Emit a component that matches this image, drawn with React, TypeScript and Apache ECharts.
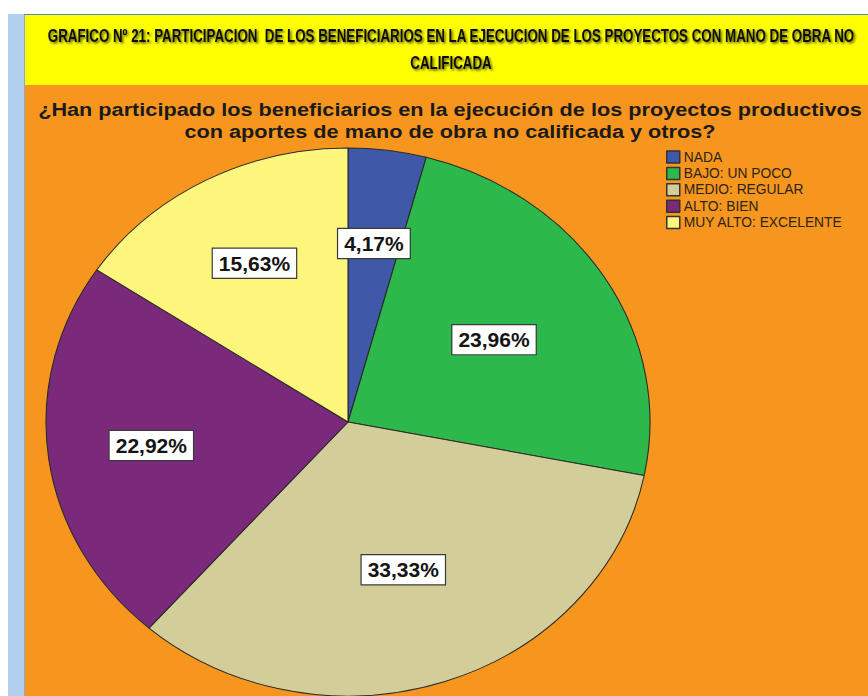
import React, { useEffect, useRef } from "react";
import * as echarts from "echarts";

const categories = ["NADA", "BAJO: UN POCO", "MEDIO: REGULAR", "ALTO: BIEN", "MUY ALTO: EXCELENTE"];
const percentages = [4.17, 23.96, 33.33, 22.92, 15.63];
const sliceColors = ["#3F59A8", "#2DB84C", "#D3CE99", "#7A297B", "#FCF67D"];
const titleLines = [
  "GRAFICO Nº 21: PARTICIPACION  DE LOS BENEFICIARIOS EN LA EJECUCION DE LOS PROYECTOS CON MANO DE OBRA NO",
  "CALIFICADA",
];
const subtitleLines = [
  "¿Han participado los beneficiarios en la ejecución de los proyectos productivos",
  "con aportes de mano de obra no calificada y otros?",
];
// which label ring each slice's label sits on (outer = farther from centre)
const labelRings = ["outer", "inner", "inner", "outer", "outer"];

const W = 868;
const H = 696;
const CX = 348;
const CY = 422;
const RY = 274;
const RX = 302;
const SX = RX / RY;
const ORANGE = "#F7961E";

const fmt = (v: number) => v.toFixed(2).replace(".", ",") + "%";

function measure(font: string, text: string) {
  const ctx = document.createElement("canvas").getContext("2d")!;
  ctx.font = font;
  return ctx.measureText(text).width;
}

function ringSeries(ring: string, rho: number) {
  return {
    type: "pie",
    center: [CX, CY],
    radius: [rho - 8, rho + 8],
    startAngle: 90,
    silent: true,
    itemStyle: { color: "rgba(0,0,0,0)", borderWidth: 0 },
    labelLine: { show: false },
    label: {
      show: true,
      position: "inside",
      formatter: (p: any) => fmt(p.value),
      fontFamily: "'Liberation Sans', Arial, sans-serif",
      fontWeight: "bold",
      fontSize: 21,
      color: "#141414",
      backgroundColor: "#FFFFFF",
      borderColor: "#3a3a3a",
      borderWidth: 1.2,
      padding: [5, 6, 3, 6],
    },
    labelLayout: (p: any) => {
      const r = p.labelRect;
      const cx = r.x + r.width / 2;
      const cy = r.y + r.height / 2;
      return { x: CX + (cx - CX) * SX, y: cy, align: "center", verticalAlign: "middle" };
    },
    data: categories.map((n, i) => ({
      name: n,
      value: percentages[i],
      label: { show: labelRings[i] === ring },
    })),
  };
}

export default function App() {
  const pieRef = useRef<HTMLDivElement>(null);
  const topRef = useRef<HTMLDivElement>(null);

  useEffect(() => {
    const pieChart = echarts.init(pieRef.current!, undefined, { renderer: "svg", width: W, height: H });
    pieChart.setOption({
      animation: false,
      backgroundColor: ORANGE,
      series: [
        {
          type: "pie",
          center: [CX, CY],
          radius: RY,
          startAngle: 90,
          silent: true,
          label: { show: false },
          labelLine: { show: false },
          itemStyle: { borderColor: "#2b2b2b", borderWidth: 1 },
          data: categories.map((n, i) => ({
            name: n,
            value: percentages[i],
            itemStyle: { color: sliceColors[i] },
          })),
        },
      ],
    });

    const topChart = echarts.init(topRef.current!, undefined, { renderer: "svg", width: W, height: H });
    const titleFont = "bold 18px 'Liberation Sans', Arial, sans-serif";
    const subFont = "bold 19px 'Liberation Sans', Arial, sans-serif";
    const titleScale = 808 / measure(titleFont, titleLines[0]);
    const subScale = 824 / measure(subFont, subtitleLines[0]);
    const subY = [109, 131];
    topChart.setOption({
      animation: false,
      backgroundColor: "transparent",
      graphic: [
        { type: "rect", shape: { x: 0, y: 0, width: W, height: 14 }, style: { fill: "#FFFFFF" }, silent: true },
        { type: "rect", shape: { x: 0, y: 0, width: 8, height: H }, style: { fill: "#FFFFFF" }, silent: true },
        { type: "rect", shape: { x: 8, y: 14, width: 16, height: H - 14 }, style: { fill: "#B3CFEF" }, silent: true },
        { type: "line", shape: { x1: 24.5, y1: 14, x2: 24.5, y2: H }, style: { stroke: "#8FA9C6", lineWidth: 1 }, silent: true },
        { type: "rect", shape: { x: 25, y: 15, width: W - 25, height: 70 }, style: { fill: "#FFFF00" }, silent: true },
        { type: "line", shape: { x1: 24, y1: 14.5, x2: W, y2: 14.5 }, style: { stroke: "#5B85BE", lineWidth: 1 }, silent: true },
        ...titleLines.map((t, i) => ({
          type: "text",
          x: 451,
          y: 36 + i * 27,
          scaleX: titleScale,
          silent: true,
          style: {
            text: t,
            font: titleFont,
            fill: "#111111",
            align: "center",
            verticalAlign: "middle",
            textShadowColor: "rgba(50,50,0,0.8)",
            textShadowBlur: 2,
            textShadowOffsetX: 1.5,
            textShadowOffsetY: 1.5,
          },
        })),
        ...subtitleLines.map((t, i) => ({
          type: "text",
          x: 450,
          y: subY[i],
          scaleX: subScale,
          silent: true,
          style: {
            text: t,
            font: subFont,
            fill: "#1a1a1a",
            align: "center",
            verticalAlign: "middle",
          },
        })),
      ],
      legend: {
        orient: "vertical",
        left: 666,
        top: 150,
        padding: 0,
        itemWidth: 13,
        itemHeight: 12,
        itemGap: 2.4,
        selectedMode: false,
        icon: "rect",
        textStyle: {
          fontFamily: "'Liberation Sans', Arial, sans-serif",
          fontSize: 13.8,
          color: "#2a2418",
          padding: [0, 0, 0, -1],
        },
        data: categories.map((n, i) => ({
          name: n,
          itemStyle: { color: sliceColors[i], borderColor: "#333333", borderWidth: 1.5 },
        })),
      },
      series: [ringSeries("outer", 177), ringSeries("inner", 153)],
    });

    return () => {
      pieChart.dispose();
      topChart.dispose();
    };
  }, []);

  return (
    <div style={{ position: "fixed", left: 0, top: 0, width: W, height: H, overflow: "hidden", background: ORANGE }}>
      <div
        ref={pieRef}
        style={{
          position: "absolute",
          left: 0,
          top: 0,
          width: W,
          height: H,
          transform: `scaleX(${SX})`,
          transformOrigin: `${CX}px ${CY}px`,
        }}
      />
      <div ref={topRef} style={{ position: "absolute", left: 0, top: 0, width: W, height: H }} />
    </div>
  );
}
